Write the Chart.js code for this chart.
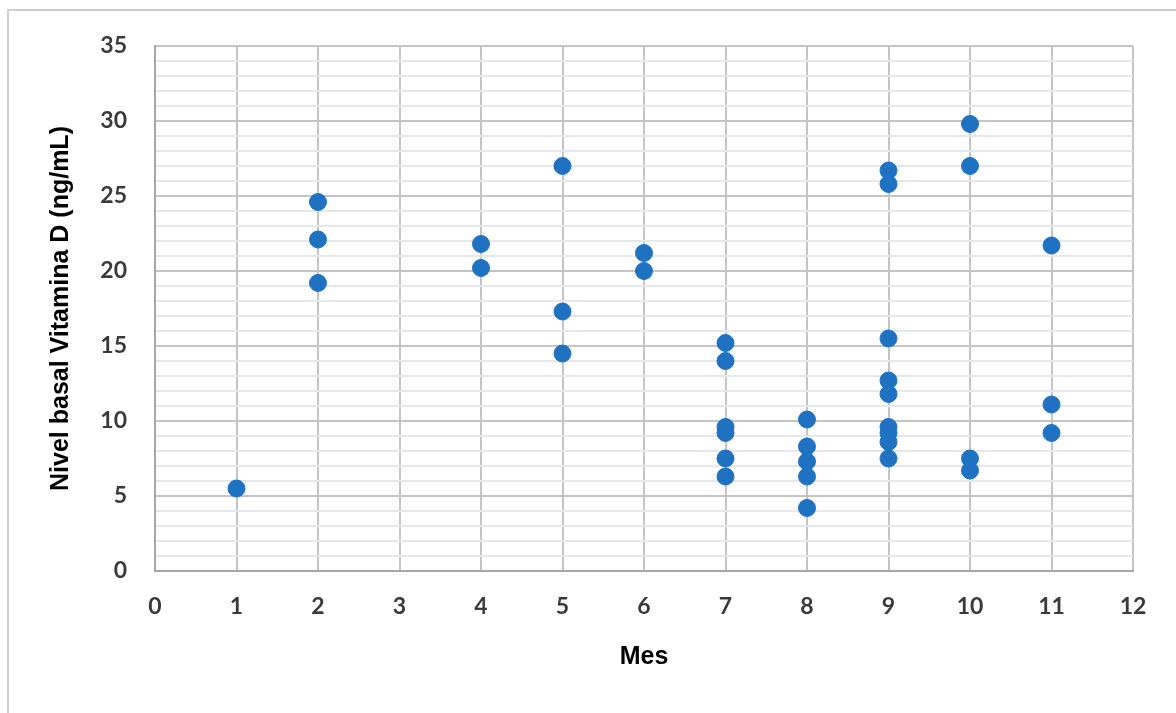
<!DOCTYPE html>
<html>
<head>
  <meta charset="utf-8">
  <title>Nivel basal Vitamina D por mes</title>
  <script src="https://cdn.jsdelivr.net/npm/chart.js"></script>
  <style>
    html, body { margin: 0; padding: 0; background: #fff; }
    .wrap { position: relative; width: 1176px; height: 713px; overflow: hidden; }
    .frame { position: absolute; left: 7px; top: 9px; right: -10px; bottom: -10px; border-top: 2px solid #cfcfcf; border-left: 2px solid #cfcfcf; }
    canvas { position: absolute; left: 0; top: 0; }
  </style>
</head>
<body>
  <div class="wrap">
    <div class="frame"></div>
    <canvas id="scatterChart" width="1176" height="713"></canvas>
  </div>

  <script>
    // one entry per patient: month of sampling and basal vitamin D level
    const months = [
      1,
      2, 2, 2,
      4, 4,
      5, 5, 5,
      6, 6,
      7, 7, 7, 7, 7, 7,
      8, 8, 8, 8, 8,
      9, 9, 9, 9, 9, 9, 9, 9, 9,
      10, 10, 10, 10,
      11, 11, 11
    ];
    const vitaminD = [
      5.5,
      24.6, 22.1, 19.2,
      21.8, 20.2,
      27.0, 17.3, 14.5,
      21.2, 20.0,
      15.2, 14.0, 9.6, 9.2, 7.5, 6.3,
      10.1, 8.3, 7.3, 6.3, 4.2,
      26.7, 25.8, 15.5, 12.7, 11.8, 9.6, 9.2, 8.6, 7.5,
      29.8, 27.0, 7.5, 6.7,
      21.7, 11.1, 9.2
    ];
    const xTicks = [0, 1, 2, 3, 4, 5, 6, 7, 8, 9, 10, 11, 12];
    const yMajorStep = 5;

    const points = months.map((m, i) => ({ x: m, y: vitaminD[i] }));
    const tickFont = { family: 'Lato, "Open Sans", sans-serif', size: 23, weight: 'bold' };
    const titleFont = { family: '"Liberation Sans", Arial, sans-serif', size: 25, weight: 'bold' };

    new Chart(document.getElementById('scatterChart').getContext('2d'), {
      type: 'scatter',
      data: {
        datasets: [{
          label: 'Vitamina D',
          data: points,
          backgroundColor: '#1f72c1',
          borderColor: '#1f72c1',
          pointRadius: 8.5,
          pointHoverRadius: 8.5
        }]
      },
      options: {
        responsive: false,
        animation: false,
        layout: { padding: { top: 46, right: 43, bottom: 0, left: 0 } },
        plugins: { legend: { display: false }, tooltip: { enabled: false } },
        scales: {
          x: {
            type: 'linear',
            min: 0,
            max: 12,
            afterBuildTicks: scale => { scale.ticks = xTicks.map(v => ({ value: v })); },
            afterFit: scale => { scale.height = 142; },
            grid: { color: '#c4c4c4', lineWidth: 2, drawTicks: false },
            border: { color: '#a8a8a8', width: 2 },
            ticks: { font: tickFont, color: '#3a3a3a', padding: 22, maxRotation: 0 },
            title: { display: true, text: 'Mes', font: titleFont, color: '#000', padding: { top: 0, bottom: 41 } }
          },
          y: {
            min: 0,
            max: 35,
            afterFit: scale => { scale.width = 155; },
            grid: {
              drawTicks: false,
              lineWidth: 2,
              color: ctx => (ctx.tick && ctx.tick.value % yMajorStep === 0) ? '#c4c4c4' : '#e4e8ec'
            },
            border: { color: '#a8a8a8', width: 2 },
            ticks: {
              stepSize: 1,
              autoSkip: false,
              font: tickFont,
              color: '#3a3a3a',
              padding: 28,
              callback: v => (v % yMajorStep === 0 ? v : '')
            },
            title: { display: true, text: 'Nivel basal Vitamina D (ng/mL)', font: titleFont, color: '#000', padding: { top: 46, bottom: 0 } }
          }
        }
      }
    });
  </script>
</body>
</html>
